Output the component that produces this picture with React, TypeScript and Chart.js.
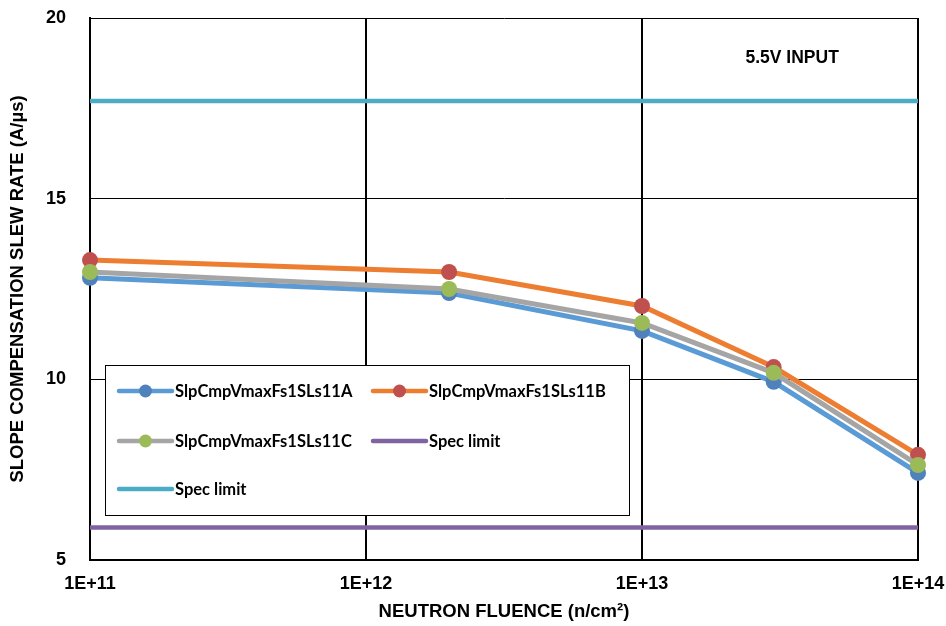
import React, { useEffect, useRef } from 'react';
import { Chart, registerables } from 'chart.js';

Chart.register(...registerables);

// ---- Data ----
const fluence = [1e11, 2e12, 1e13, 3e13, 1e14];
const seriesA = [12.81, 12.39, 11.34, 9.93, 7.41];
const seriesB = [13.3, 12.97, 12.03, 10.34, 7.91];
const seriesC = [12.97, 12.5, 11.56, 10.18, 7.63];
const specLimitLow = 5.9;
const specLimitHigh = 17.7;
const specRange = [1e11, 1e14];
const xTickValues = [1e11, 1e12, 1e13, 1e14];
const yTickValues = [5, 10, 15, 20];
const seriesLabels = [
  'SlpCmpVmaxFs1SLs11A',
  'SlpCmpVmaxFs1SLs11B',
  'SlpCmpVmaxFs1SLs11C',
  'Spec limit',
  'Spec limit',
];
const annotationText = '5.5V INPUT';
const annotationX = 3.5e13;
const annotationY = 18.9;

const AXIS_FONT = 'Liberation Sans, Arial, sans-serif';
const LEGEND_FONT = 'Lato, Carlito, Calibri, sans-serif';

const legendPlugin = {
  id: 'boxLegend',
  beforeDatasetsDraw(chart: any) {
    const ctx = chart.ctx;
    const bx = 105, by = 365, bw = 524, bh = 150;
    ctx.save();
    ctx.fillStyle = '#ffffff';
    ctx.fillRect(bx, by, bw, bh);
    ctx.strokeStyle = '#000000';
    ctx.lineWidth = 1;
    ctx.strokeRect(bx + 0.5, by + 0.5, bw, bh);
    const colX = [bx + 14, bx + 268];
    const rowY = [by + 26, by + 76, by + 124];
    const legendOrder = [0, 1, 2, 3, 4];
    legendOrder.forEach((dsIndex, i) => {
      const ds = chart.data.datasets[dsIndex];
      const x = colX[i % 2];
      const y = rowY[Math.floor(i / 2)];
      ctx.strokeStyle = ds.borderColor;
      ctx.lineWidth = 4.5;
      ctx.lineCap = 'round';
      ctx.beginPath();
      ctx.moveTo(x, y);
      ctx.lineTo(x + 53, y);
      ctx.stroke();
      if (ds.pointRadius > 0) {
        ctx.fillStyle = ds.pointBackgroundColor;
        ctx.beginPath();
        ctx.arc(x + 26.5, y, 6.5, 0, Math.PI * 2);
        ctx.fill();
      }
      ctx.fillStyle = '#000000';
      ctx.font = 'bold 16.5px ' + LEGEND_FONT;
      ctx.textAlign = 'left';
      ctx.textBaseline = 'middle';
      ctx.fillText(ds.label, x + 56, y + 1);
    });
    ctx.restore();
  },
};

const annotationPlugin = {
  id: 'inputNote',
  afterDatasetsDraw(chart: any) {
    const ctx = chart.ctx;
    const xs = chart.scales.x;
    const ys = chart.scales.y;
    ctx.save();
    ctx.fillStyle = '#000000';
    ctx.font = 'bold 17.5px ' + AXIS_FONT;
    ctx.textAlign = 'center';
    ctx.textBaseline = 'middle';
    ctx.fillText(annotationText, xs.getPixelForValue(annotationX), ys.getPixelForValue(annotationY));
    ctx.restore();
  },
};

const zeroPadding = (scale: any) => {
  scale.paddingTop = 0;
  scale.paddingBottom = 0;
  scale.paddingLeft = 0;
  scale.paddingRight = 0;
};

export default function App() {
  const canvasRef = useRef<HTMLCanvasElement>(null);

  useEffect(() => {
    document.body.style.margin = '0';
    const canvas = canvasRef.current;
    if (!canvas) return;

    const toPts = (ys: number[]) => fluence.map((x, i) => ({ x, y: ys[i] }));
    const flat = (v: number) => specRange.map((x) => ({ x, y: v }));

    const chart = new Chart(canvas, {
      type: 'line',
      data: {
        datasets: [
          {
            label: seriesLabels[0],
            data: toPts(seriesA),
            borderColor: '#5B9BD5',
            backgroundColor: '#4F81BD',
            pointBackgroundColor: '#4F81BD',
            pointBorderColor: '#4F81BD',
            pointRadius: 8,
            pointBorderWidth: 0,
            borderWidth: 5,
            clip: false,
            order: 3,
          },
          {
            label: seriesLabels[1],
            data: toPts(seriesB),
            borderColor: '#ED7D31',
            backgroundColor: '#C0504D',
            pointBackgroundColor: '#C0504D',
            pointBorderColor: '#C0504D',
            pointRadius: 8,
            pointBorderWidth: 0,
            borderWidth: 5,
            clip: false,
            order: 2,
          },
          {
            label: seriesLabels[2],
            data: toPts(seriesC),
            borderColor: '#A5A5A5',
            backgroundColor: '#9BBB59',
            pointBackgroundColor: '#9BBB59',
            pointBorderColor: '#9BBB59',
            pointRadius: 8,
            pointBorderWidth: 0,
            borderWidth: 5,
            clip: false,
            order: 1,
          },
          {
            label: seriesLabels[3],
            data: flat(specLimitLow),
            borderColor: '#8064A2',
            backgroundColor: '#8064A2',
            pointRadius: 0,
            borderWidth: 4.5,
            order: 4,
          },
          {
            label: seriesLabels[4],
            data: flat(specLimitHigh),
            borderColor: '#4BACC6',
            backgroundColor: '#4BACC6',
            pointRadius: 0,
            borderWidth: 4.5,
            order: 5,
          },
        ],
      },
      options: {
        animation: false,
        responsive: false,
        maintainAspectRatio: false,
        layout: { padding: { left: 0, right: 28, top: 18, bottom: 0 } },
        plugins: {
          legend: { display: false },
          tooltip: { enabled: false },
        },
        scales: {
          x: {
            type: 'logarithmic',
            min: 1e11,
            max: 1e14,
            afterBuildTicks: (scale: any) => {
              scale.ticks = xTickValues.map((v) => ({ value: v }));
            },
            afterFit: (scale: any) => {
              scale.height = 66;
              zeroPadding(scale);
            },
            ticks: {
              autoSkip: false,
              maxRotation: 0,
              padding: 13,
              color: '#000000',
              font: { family: AXIS_FONT, size: 18, weight: 'bold' },
              callback: (v: any) => '1E+' + Math.round(Math.log10(Number(v))),
            },
            grid: {
              color: '#000000',
              lineWidth: 2,
              drawTicks: false,
            },
            border: { color: '#000000', width: 2 },
            title: {
              display: true,
              text: 'NEUTRON FLUENCE (n/cm²)',
              color: '#000000',
              font: { family: AXIS_FONT, size: 18.5, weight: 'bold' },
              padding: { top: 0, bottom: 3 },
            },
          },
          y: {
            type: 'linear',
            min: 5,
            max: 20,
            afterBuildTicks: (scale: any) => {
              scale.ticks = yTickValues.map((v) => ({ value: v }));
            },
            afterFit: (scale: any) => {
              scale.width = 90;
              zeroPadding(scale);
            },
            ticks: {
              padding: 24,
              color: '#000000',
              font: { family: AXIS_FONT, size: 18, weight: 'bold' },
            },
            grid: {
              color: '#000000',
              lineWidth: 1,
              drawTicks: false,
            },
            border: { color: '#000000', width: 2 },
            title: {
              display: true,
              text: 'SLOPE COMPENSATION SLEW RATE (A/µs)',
              color: '#000000',
              font: { family: AXIS_FONT, size: 18.5, weight: 'bold' },
              padding: { top: 7, bottom: 0 },
            },
          },
        },
      } as any,
      plugins: [legendPlugin, annotationPlugin],
    });

    return () => chart.destroy();
  }, []);

  return (
    <div style={{ width: 946, height: 626, overflow: 'hidden', background: '#ffffff' }}>
      <canvas ref={canvasRef} width={946} height={626} />
    </div>
  );
}
